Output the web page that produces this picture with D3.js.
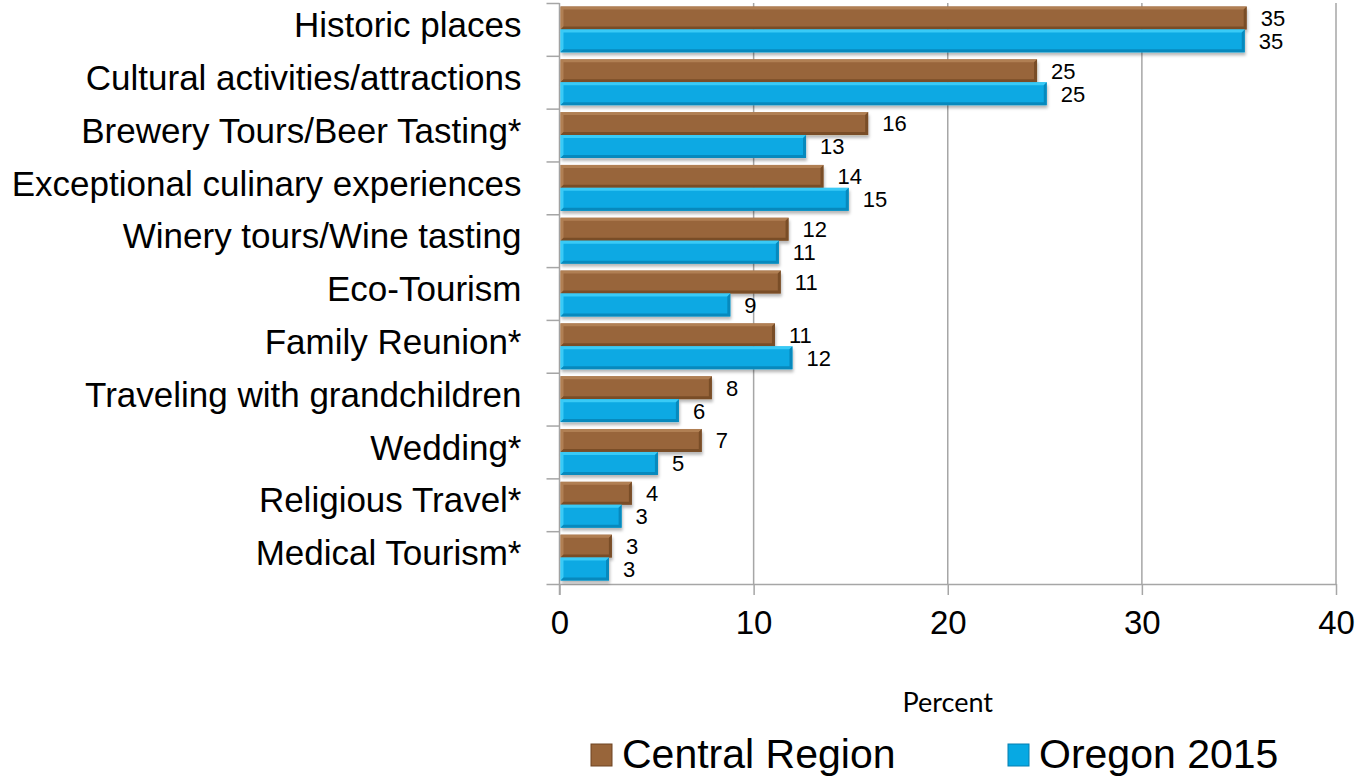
<!DOCTYPE html>
<html>
<head>
<meta charset="utf-8">
<script src="https://cdnjs.cloudflare.com/ajax/libs/d3/7.8.5/d3.min.js"></script>
<style>
  body { margin: 0; background: #fff; }
  svg { display: block; }
  text { font-family: "Liberation Sans", Arial, sans-serif; fill: #000; }
</style>
</head>
<body>
<div id="chart"></div>
<script>
// chart size
var w = 1365;
var h = 778;

// categories, top to bottom
var categories = [
  "Historic places",
  "Cultural activities/attractions",
  "Brewery Tours/Beer Tasting*",
  "Exceptional culinary experiences",
  "Winery tours/Wine tasting",
  "Eco-Tourism",
  "Family Reunion*",
  "Traveling with grandchildren",
  "Wedding*",
  "Religious Travel*",
  "Medical Tourism*"
];

// series values (percent)
var central = [35.4, 24.6, 15.9, 13.6, 11.8, 11.4, 11.1, 7.85, 7.33, 3.73, 2.7];
var oregon  = [35.3, 25.1, 12.7, 14.9, 11.3, 8.8, 12.0, 6.15, 5.07, 3.2, 2.55];

var seriesNames = ["Central Region", "Oregon 2015"];
var xTicks = [0, 10, 20, 30, 40];

var colors = {
  "Central Region": { base: "#98653a", light: "#b7865a", dark: "#6f4522" },
  "Oregon 2015":    { base: "#07a9e3", light: "#45d2fa", dark: "#067fb0" }
};

// build rows
var rows = categories.map(function(c, i) {
  return { cat: c, values: [
    { key: "Central Region", value: central[i] },
    { key: "Oregon 2015", value: oregon[i] }
  ]};
});

var svg = d3.select("#chart").append("svg")
  .attr("width", w)
  .attr("height", h);

// drop shadow for the bars
var defs = svg.append("defs");
var f = defs.append("filter").attr("id", "shadow")
  .attr("x", "-5%").attr("y", "-30%").attr("width", "115%").attr("height", "170%");
f.append("feDropShadow")
  .attr("dx", 1).attr("dy", 3)
  .attr("stdDeviation", 1.6)
  .attr("flood-color", "#000")
  .attr("flood-opacity", 0.28);

// scales
var xScale = d3.scaleLinear().domain([0, 40]).range([559.5, 1336]);

var yScale = d3.scaleBand()
  .domain(categories)
  .range([3, 584])
  .padding(0);

var ySub = d3.scaleBand()
  .domain(seriesNames)
  .range([0, yScale.bandwidth()])
  .paddingInner(0)
  .paddingOuter(0.15);

// boundaries for the y tick marks
var yEdge = d3.scaleLinear().domain([0, categories.length]).range([3, 584]);

// gridlines
svg.append("g")
  .selectAll("line")
  .data(xTicks.slice(1))
  .enter()
  .append("line")
  .attr("x1", function(d) { return xScale(d); })
  .attr("x2", function(d) { return xScale(d); })
  .attr("y1", 3)
  .attr("y2", 584)
  .attr("stroke", "#a6a6a6")
  .attr("stroke-width", 1.5);

// x axis
var xAxis = d3.axisBottom(xScale)
  .tickValues(xTicks)
  .tickSize(11)
  .tickSizeOuter(0)
  .tickPadding(16);
var gx = svg.append("g")
  .attr("transform", "translate(0,584)")
  .call(xAxis);
gx.select(".domain").attr("stroke", "#a6a6a6").attr("stroke-width", 1.5);
gx.selectAll(".tick line").attr("stroke", "#a6a6a6").attr("stroke-width", 1.5);
gx.selectAll(".tick text")
  .attr("font-size", "33px")
  .attr("fill", "#000");

// y axis tick marks at the band edges
var yEdgeAxis = d3.axisLeft(yEdge)
  .ticks(categories.length)
  .tickSize(13)
  .tickSizeOuter(0)
  .tickFormat("");
var gyEdge = svg.append("g")
  .attr("transform", "translate(559.5,0)")
  .call(yEdgeAxis);
gyEdge.select(".domain").attr("stroke", "#a6a6a6").attr("stroke-width", 1.5)
  .attr("d", "M0,3V595");
gyEdge.selectAll(".tick line").attr("stroke", "#a6a6a6").attr("stroke-width", 1.5);

// y axis category labels
var yAxis = d3.axisLeft(yScale).tickSize(0).tickPadding(38);
var gy = svg.append("g")
  .attr("transform", "translate(559.5,0)")
  .call(yAxis);
gy.select(".domain").remove();
gy.selectAll(".tick text")
  .attr("font-size", "35px")
  .attr("fill", "#000")
  .attr("dy", "0.22em");

// bars
var groups = svg.selectAll(".cat")
  .data(rows)
  .enter()
  .append("g")
  .attr("class", "cat")
  .attr("transform", function(d) { return "translate(0," + yScale(d.cat) + ")"; });

var bars = groups.selectAll(".bar")
  .data(function(d) { return d.values; })
  .enter()
  .append("g")
  .attr("class", "bar");

bars.append("rect")
  .attr("x", xScale(0) + 1)
  .attr("y", function(d) { return ySub(d.key); })
  .attr("width", function(d) { return xScale(d.value) - xScale(0) - 1; })
  .attr("height", ySub.bandwidth())
  .attr("fill", function(d) { return colors[d.key].base; })
  .attr("filter", "url(#shadow)");

// bevel: light top/left edge
bars.append("path")
  .attr("d", function(d) {
    var x0 = xScale(0) + 1, x1 = xScale(d.value), y0 = ySub(d.key), bh = ySub.bandwidth();
    return "M" + x0 + "," + (y0 + bh) + "V" + y0 + "H" + x1 + "L" + (x1 - 3) + "," + (y0 + 3) +
      "H" + (x0 + 3) + "V" + (y0 + bh - 3) + "Z";
  })
  .attr("fill", function(d) { return colors[d.key].light; })
  .attr("opacity", 0.8);

// bevel: dark bottom/right edge
bars.append("path")
  .attr("d", function(d) {
    var x0 = xScale(0) + 1, x1 = xScale(d.value), y0 = ySub(d.key), bh = ySub.bandwidth();
    return "M" + x0 + "," + (y0 + bh) + "H" + x1 + "V" + y0 + "L" + (x1 - 3) + "," + (y0 + 3) +
      "V" + (y0 + bh - 3) + "H" + (x0 + 3) + "Z";
  })
  .attr("fill", function(d) { return colors[d.key].dark; })
  .attr("opacity", 0.75);

// value labels
bars.append("text")
  .attr("x", function(d) { return xScale(d.value) + 14; })
  .attr("y", function(d) { return ySub(d.key) + ySub.bandwidth() / 2; })
  .attr("dy", "0.36em")
  .attr("font-size", "22px")
  .text(function(d) { return d3.format(".0f")(d.value); });

// axis title
svg.append("text")
  .attr("x", (xScale(0) + xScale(40)) / 2)
  .attr("y", 712)
  .attr("text-anchor", "middle")
  .style("font-family", "Lato, 'Open Sans', sans-serif")
  .attr("font-size", "27px")
  .text("Percent");

// legend
var legendX = [591, 1008];
var legend = svg.selectAll(".legend")
  .data(seriesNames)
  .enter()
  .append("g")
  .attr("class", "legend")
  .attr("transform", function(d, i) { return "translate(" + legendX[i] + ",744)"; });

legend.append("rect")
  .attr("width", 21)
  .attr("height", 22)
  .attr("fill", function(d) { return colors[d].base; })
  .attr("stroke", function(d) { return colors[d].dark; })
  .attr("stroke-width", 1);

legend.append("text")
  .attr("x", 31)
  .attr("y", 24)
  .attr("font-size", "41px")
  .text(function(d) { return d; });
</script>
</body>
</html>
